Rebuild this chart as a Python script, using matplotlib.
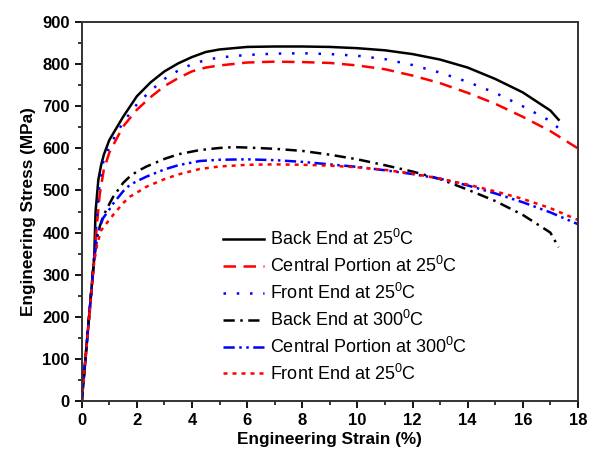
import matplotlib.pyplot as plt
from matplotlib.ticker import MultipleLocator

plt.rcParams['font.family'] = ['Liberation Sans', 'DejaVu Sans']
plt.rcParams['mathtext.fontset'] = 'custom'
plt.rcParams['mathtext.rm'] = 'Liberation Sans'

# ---------- Data ----------
back25_x = [0, 0.45, 0.5, 0.6, 0.7, 0.8, 1.0, 1.2, 1.5, 2.0, 2.5, 3.0, 3.5, 4.0, 4.5, 5, 6, 7, 8, 9, 10, 11, 12, 13, 14, 15, 16, 17, 17.3]
back25_y = [0, 340, 450, 525, 560, 585, 620, 642, 675, 724, 757, 783, 802, 817, 829, 835, 841, 842, 842, 841, 838, 833, 824, 811, 792, 765, 733, 690, 668]

central25_x = [0, 0.45, 0.55, 0.65, 0.8, 1.0, 1.2, 1.5, 2.0, 2.5, 3.0, 3.5, 4.0, 4.5, 5, 6, 7, 8, 9, 10, 11, 12, 13, 14, 15, 16, 17, 18]
central25_y = [0, 340, 420, 490, 550, 590, 615, 652, 692, 722, 748, 767, 783, 792, 797, 804, 806, 805, 803, 797, 788, 773, 755, 732, 706, 675, 641, 600]

front25_x = [0, 0.45, 0.55, 0.65, 0.8, 1.0, 1.2, 1.5, 2.0, 2.5, 3.0, 3.5, 4.0, 4.5, 5, 6, 7, 8, 9, 10, 11, 12, 13, 14, 15, 16, 17, 17.35]
front25_y = [0, 340, 440, 520, 575, 603, 628, 662, 705, 737, 765, 785, 800, 810, 816, 822, 825, 826, 824, 820, 812, 798, 780, 758, 732, 700, 665, 645]

back300_x = [0, 0.45, 0.55, 0.65, 0.77, 1.0, 1.14, 1.5, 1.74, 2.0, 2.35, 3, 3.5, 4.28, 5, 5.5, 6, 7, 8, 9, 10, 11, 12, 13, 14, 15, 16, 17, 17.3]
back300_y = [0, 340, 390, 414, 438, 468, 485, 518, 533, 545, 557, 575, 586, 596, 601, 603, 602, 599, 594, 585, 574, 560, 545, 527, 502, 475, 442, 400, 365]

central300_x = [0, 0.45, 0.55, 0.65, 0.77, 1.0, 1.14, 1.5, 1.74, 2.0, 2.35, 3, 3.5, 4.28, 5, 6, 7, 8, 9, 10, 11, 12, 13, 14, 15, 16, 17, 18]
central300_y = [0, 340, 385, 412, 434, 455, 469, 498, 513, 522, 533, 550, 560, 570, 573, 574, 572, 568, 562, 556, 548, 539, 528, 512, 493, 472, 448, 420]

front25b_x = [0, 0.45, 0.55, 0.7, 0.9, 1.14, 1.5, 1.74, 2.0, 2.35, 3, 3.5, 4.28, 5, 6, 7, 8, 9, 10, 11, 12, 13, 14, 15, 16, 17, 18]
front25b_y = [0, 330, 370, 405, 422, 442, 470, 485, 495, 509, 527, 538, 551, 557, 561, 562, 561, 559, 555, 549, 540, 528, 514, 498, 480, 458, 430]

labels = [r"Back End at 25$^{0}$C", r"Central Portion at 25$^{0}$C", r"Front End at 25$^{0}$C",
          r"Back End at 300$^{0}$C", r"Central Portion at 300$^{0}$C", r"Front End at 25$^{0}$C"]

# ---------- Plot ----------
fig = plt.figure(figsize=(5.97, 4.51), dpi=100)
ax = fig.add_axes([0.137, 0.111, 0.831, 0.840])

lw = 1.8
ax.plot(back25_x, back25_y, color="black", lw=lw, ls="-", label=labels[0])
ax.plot(central25_x, central25_y, color="red", lw=lw, ls=(0, (5, 3)), label=labels[1])
ax.plot(front25_x, front25_y, color="blue", lw=lw, ls=(0, (1, 4.3)), label=labels[2])
ax.plot(back300_x, back300_y, color="black", lw=lw, ls=(0, (4.5, 2.2, 1, 2.2)), label=labels[3])
ax.plot(central300_x, central300_y, color="blue", lw=lw, ls=(0, (4.5, 1.8, 1, 1.8, 1, 1.8)), label=labels[4])
ax.plot(front25b_x, front25b_y, color="red", lw=lw, ls=(0, (1.6, 2.0)), label=labels[5])

ax.set_xlim(0, 18)
ax.set_ylim(0, 900)
ax.xaxis.set_major_locator(MultipleLocator(2))
ax.xaxis.set_minor_locator(MultipleLocator(1))
ax.yaxis.set_major_locator(MultipleLocator(100))
ax.yaxis.set_minor_locator(MultipleLocator(50))
ax.tick_params(which="major", direction="out", length=5, width=1.3, labelsize=12)
ax.tick_params(which="minor", direction="out", length=3, width=1.1)
for lab in ax.get_xticklabels() + ax.get_yticklabels():
    lab.set_fontweight("bold")
for sp in ax.spines.values():
    sp.set_linewidth(1.4)
    sp.set_color("#333333")

ax.set_xlabel("Engineering Strain (%)", fontsize=12.4, fontweight="bold", labelpad=3)
ax.set_ylabel("Engineering Stress (MPa)", fontsize=12.4, fontweight="bold", labelpad=5)

ax.legend(loc="upper left", bbox_to_anchor=(0.267, 0.478), frameon=False, fontsize=13,
          handlelength=2.25, handletextpad=0.33, labelspacing=0.38, borderpad=0)

fig.savefig("out.png", dpi=100)
